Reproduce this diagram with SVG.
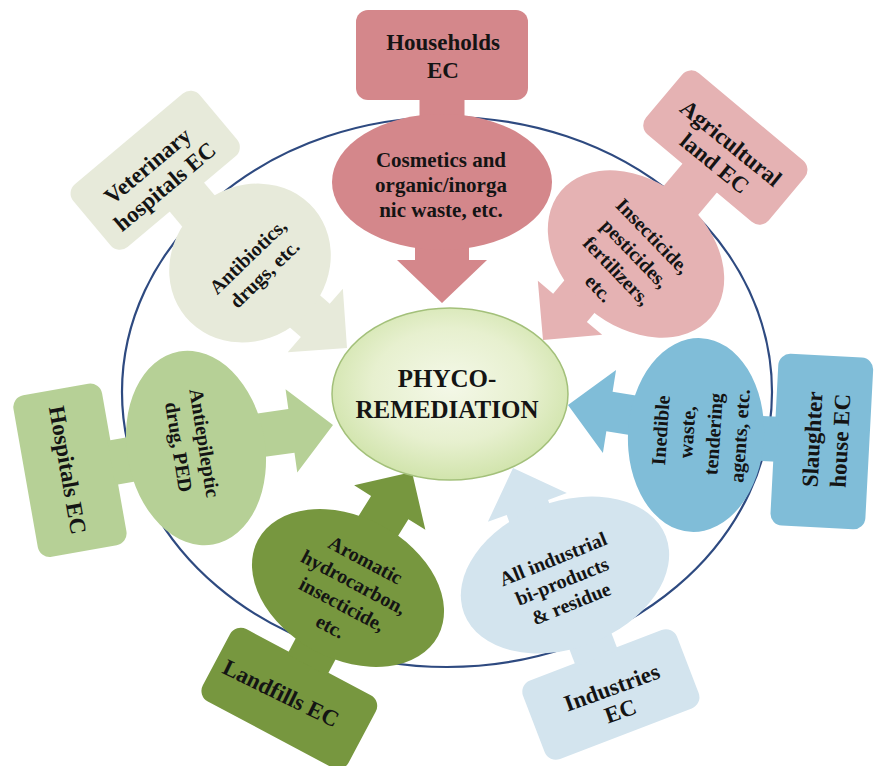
<svg xmlns="http://www.w3.org/2000/svg" width="875" height="766" viewBox="0 0 875 766">
  <defs>
    <radialGradient id="coreFill" cx="50%" cy="45%" r="55%">
      <stop offset="0" stop-color="#f4f8e8"/>
      <stop offset="0.6" stop-color="#e7f0cf"/>
      <stop offset="1" stop-color="#d1e4ac"/>
    </radialGradient>
  </defs>
  <style>
    .lbl{font-family:"Liberation Serif","Times New Roman",serif;font-weight:bold;fill:#141414;text-anchor:middle}
    .big{font-size:23px}
    .sm{font-size:20px}
    .hh{fill:#d4878b}
    .ag{fill:#e5b2b3}
    .vt{fill:#e7eada}
    .hs{fill:#b6d096}
    .lf{fill:#77973f}
    .in{fill:#d3e4ee}
    .sh{fill:#80bdd8}
    .ring{fill:none;stroke:#2e4a80;stroke-width:2.2}
  </style>

  <rect width="875" height="766" fill="#ffffff"/>

  <!-- outer ring -->
  <g id="ring">
    <ellipse class="ring" cx="447" cy="392" rx="325" ry="275"/>
  </g>

  <!-- arrows pointing at the core -->
  <g id="connectors">
    <polygon class="hh" points="0,0 -45,-43 -27,-43 -27,-85 27,-85 27,-43 45,-43" transform="translate(442,303)"/>
    <polygon class="ag" points="0,0 -42,-42 -22,-42 -22,-100 22,-100 22,-42 42,-42" transform="translate(543,340) rotate(40)"/>
    <polygon class="vt" points="0,0 -42,-42 -22,-42 -22,-100 22,-100 22,-42 42,-42" transform="translate(347,348) rotate(-49)"/>
    <polygon class="hs" points="0,0 -42,-42 -22,-42 -22,-100 22,-100 22,-42 42,-42" transform="translate(333,425) rotate(-98)"/>
    <polygon class="lf" points="0,0 -42,-42 -22,-42 -22,-100 22,-100 22,-42 42,-42" transform="translate(412,472) rotate(-148)"/>
    <polygon class="in" points="0,0 -42,-42 -22,-42 -22,-100 22,-100 22,-42 42,-42" transform="translate(513,468) rotate(160)"/>
    <polygon class="sh" points="0,0 -42,-42 -20,-42 -20,-100 20,-100 20,-42 42,-42" transform="translate(568,405) rotate(99)"/>
  </g>

  <!-- Households -->
  <g id="households">
    <g class="hh" transform="translate(442,182)">
      <rect x="-86" y="-172" width="172" height="90" rx="12"/>
      <rect x="-22.5" y="-86" width="45" height="36"/>
      <ellipse rx="110" ry="68"/>
    </g>
    <text class="lbl big" transform="translate(443,56)"><tspan x="0" y="-6">Households</tspan><tspan x="0" y="22">EC</tspan></text>
    <text class="lbl" style="font-size:21px" transform="translate(441,185)"><tspan x="0" y="-17.6">Cosmetics and</tspan><tspan x="0" y="7.4">organic/inorga</tspan><tspan x="0" y="32.4">nic waste, etc.</tspan></text>
  </g>

  <!-- Agricultural land -->
  <g id="agricultural">
    <g class="ag" transform="translate(636,254) rotate(40)">
      <rect x="-80" y="-179" width="160" height="80" rx="12"/>
      <rect x="-22.5" y="-102" width="45" height="45"/>
      <ellipse rx="98" ry="72"/>
    </g>
    <text class="lbl big" transform="translate(723,153) rotate(39)"><tspan x="0" y="-5">Agricultural</tspan><tspan x="0" y="21">land EC</tspan></text>
    <text class="lbl sm" transform="translate(626,262) rotate(46)"><tspan x="0" y="-30.5">Insecticide,</tspan><tspan x="0" y="-5.5">pesticides,</tspan><tspan x="0" y="19.5">fertilizers,</tspan><tspan x="0" y="44.5">etc.</tspan></text>
  </g>

  <!-- Veterinary hospitals -->
  <g id="veterinary">
    <g class="vt" transform="translate(250,263) rotate(-40)">
      <rect x="-95.5" y="-173" width="165" height="82" rx="12"/>
      <rect x="-28.5" y="-94" width="45" height="36"/>
      <ellipse rx="84" ry="76"/>
    </g>
    <text class="lbl big" transform="translate(156,176) rotate(-40)"><tspan x="0" y="-5.5">Veterinary</tspan><tspan x="0" y="21.5">hospitals EC</tspan></text>
    <text class="lbl sm" transform="translate(256,265) rotate(-44)"><tspan x="0" y="-5">Antibiotics,</tspan><tspan x="0" y="19">drugs, etc.</tspan></text>
  </g>

  <!-- Hospitals -->
  <g id="hospitals">
    <g class="hs" transform="translate(196,448) rotate(-100)">
      <rect x="-82" y="-173" width="164" height="90" rx="12"/>
      <rect x="-22.5" y="-86" width="45" height="36"/>
      <ellipse rx="98" ry="69"/>
    </g>
    <text class="lbl big" transform="translate(68,470) rotate(80)" y="8">Hospitals EC</text>
    <text class="lbl sm" transform="translate(192,445) rotate(81)"><tspan x="0" y="-6">Antiepileptic</tspan><tspan x="0" y="20">drug, PED</tspan></text>
  </g>

  <!-- Landfills -->
  <g id="landfills">
    <g class="lf" transform="translate(348,588) rotate(208)">
      <rect x="-82.5" y="-166" width="165" height="82" rx="12"/>
      <rect x="-22.5" y="-87" width="45" height="35"/>
      <ellipse rx="102" ry="71"/>
    </g>
    <text class="lbl big" transform="translate(281,693) rotate(26)" y="8">Landfills EC</text>
    <text class="lbl sm" transform="translate(348,593) rotate(28)"><tspan x="0" y="-30.5">Aromatic</tspan><tspan x="0" y="-5.5">hydrocarbon,</tspan><tspan x="0" y="19.5">insecticide,</tspan><tspan x="0" y="44.5">etc.</tspan></text>
  </g>

  <!-- Industries -->
  <g id="industries">
    <g class="in" transform="translate(565,575) rotate(159)">
      <rect x="-82.5" y="-170" width="165" height="84" rx="12"/>
      <rect x="-22.5" y="-89" width="45" height="35"/>
      <ellipse rx="108" ry="73"/>
    </g>
    <text class="lbl big" transform="translate(616,699) rotate(-20)"><tspan x="0" y="-4.5">Industries</tspan><tspan x="0" y="20.5">EC</tspan></text>
    <text class="lbl sm" transform="translate(562,581) rotate(-22)"><tspan x="0" y="-17">All industrial</tspan><tspan x="0" y="7">bi-products</tspan><tspan x="0" y="31">&amp; residue</tspan></text>
  </g>

  <!-- Slaughter house -->
  <g id="slaughter">
    <g class="sh" transform="translate(696,435) rotate(93)">
      <rect x="-86" y="-173.5" width="172" height="95" rx="12"/>
      <rect x="-22.5" y="-82" width="45" height="30"/>
      <ellipse rx="97" ry="68"/>
    </g>
    <text class="lbl big" transform="translate(826,440) rotate(-87)"><tspan x="0" y="-6">Slaughter</tspan><tspan x="0" y="22">house EC</tspan></text>
    <text class="lbl sm" transform="translate(700,433) rotate(-86)"><tspan x="0" y="-32.75">Inedible</tspan><tspan x="0" y="-6.25">waste,</tspan><tspan x="0" y="20.25">tendering</tspan><tspan x="0" y="46.75">agents, etc.</tspan></text>
  </g>

  <!-- Core -->
  <g id="core">
    <ellipse cx="450" cy="394" rx="118" ry="86" fill="url(#coreFill)" stroke="#a3c07a" stroke-width="1.5"/>
    <text class="lbl" style="font-size:25px" transform="translate(447,394)"><tspan x="0" y="-6.75">PHYCO-</tspan><tspan x="0" y="24.25">REMEDIATION</tspan></text>
  </g>
</svg>
